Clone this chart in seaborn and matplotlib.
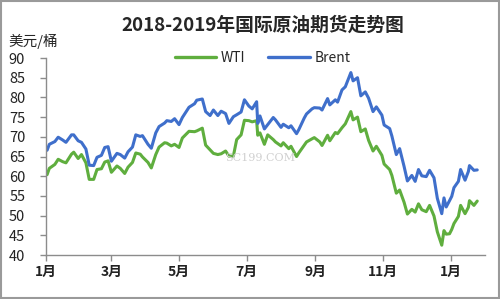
import matplotlib
matplotlib.use("Agg")
import matplotlib.pyplot as plt
import seaborn as sns
import pandas as pd
from matplotlib.patches import Rectangle

dates = [
    "2018-01-02", "2018-01-04", "2018-01-09", "2018-01-12", "2018-01-16", "2018-01-19", "2018-01-24", "2018-01-26", "2018-01-30",
    "2018-02-02", "2018-02-06", "2018-02-09", "2018-02-13", "2018-02-16", "2018-02-20", "2018-02-23", "2018-02-26",
    "2018-03-01", "2018-03-06", "2018-03-09", "2018-03-13", "2018-03-16", "2018-03-20", "2018-03-23", "2018-03-27", "2018-03-29",
    "2018-04-03", "2018-04-06", "2018-04-10", "2018-04-13", "2018-04-18", "2018-04-20", "2018-04-24", "2018-04-27",
    "2018-05-01", "2018-05-04", "2018-05-10", "2018-05-15", "2018-05-17", "2018-05-22", "2018-05-25", "2018-05-29",
    "2018-06-01", "2018-06-05", "2018-06-08", "2018-06-12", "2018-06-15", "2018-06-19", "2018-06-22", "2018-06-26", "2018-06-29",
    "2018-07-03", "2018-07-06", "2018-07-10", "2018-07-11", "2018-07-13", "2018-07-17", "2018-07-20", "2018-07-25", "2018-07-27",
    "2018-08-01", "2018-08-03", "2018-08-08", "2018-08-10", "2018-08-15", "2018-08-17", "2018-08-22", "2018-08-24", "2018-08-29", "2018-08-31",
    "2018-09-05", "2018-09-07", "2018-09-12", "2018-09-14", "2018-09-19", "2018-09-21", "2018-09-25", "2018-09-28",
    "2018-10-03", "2018-10-05", "2018-10-09", "2018-10-12", "2018-10-16", "2018-10-19", "2018-10-23", "2018-10-26", "2018-10-31",
    "2018-11-02", "2018-11-07", "2018-11-09", "2018-11-13", "2018-11-16", "2018-11-20", "2018-11-23", "2018-11-27", "2018-11-30",
    "2018-12-03", "2018-12-06", "2018-12-10", "2018-12-13", "2018-12-17", "2018-12-20", "2018-12-24", "2018-12-26", "2018-12-28", "2018-12-31",
    "2019-01-02", "2019-01-04", "2019-01-08", "2019-01-10", "2019-01-14", "2019-01-17", "2019-01-18", "2019-01-22", "2019-01-25",
]

wti = [
    60.4, 62.0, 63.0, 64.3, 63.7, 63.4, 65.6, 66.1, 64.5,
    65.5, 63.4, 59.2, 59.2, 61.7, 61.9, 63.6, 63.9,
    61.0, 62.6, 62.0, 60.7, 62.3, 63.5, 65.9, 65.6, 64.9,
    63.5, 62.1, 65.5, 67.4, 68.5, 68.4, 67.7, 68.1,
    67.3, 69.7, 71.4, 71.3, 71.5, 72.2, 67.9, 66.7,
    65.8, 65.5, 65.7, 66.4, 65.1, 65.1, 69.3, 70.5, 74.2,
    74.1, 73.8, 74.1, 70.4, 71.0, 68.1, 70.5, 69.3, 68.7,
    67.7, 68.5, 67.0, 67.6, 65.0, 65.9, 67.9, 68.7, 69.5, 69.8,
    68.7, 67.8, 70.4, 69.0, 71.1, 70.8, 72.3, 73.3,
    76.4, 74.3, 75.0, 71.3, 72.0, 69.1, 66.4, 67.6, 65.3,
    63.1, 61.7, 60.2, 55.7, 56.5, 53.4, 50.4, 51.6, 50.9,
    53.0, 51.5, 51.0, 52.6, 49.9, 45.9, 42.5, 46.2, 45.3, 45.4,
    46.5, 48.0, 49.8, 52.6, 50.5, 52.1, 53.8, 52.6, 53.7,
]

brent = [
    66.6, 68.1, 68.8, 69.9, 69.2, 68.6, 70.5, 70.5, 69.0,
    68.6, 66.9, 62.8, 62.7, 64.8, 65.3, 67.3, 67.5,
    63.8, 65.8, 65.5, 64.6, 66.2, 67.4, 70.5, 70.1, 70.3,
    68.1, 67.1, 71.0, 72.6, 73.5, 74.1, 73.9, 74.6,
    73.1, 74.9, 77.5, 78.4, 79.3, 79.6, 76.4, 75.4,
    76.8, 75.4, 76.5, 75.9, 73.4, 75.1, 75.6, 76.3, 79.4,
    77.8, 77.1, 78.9, 73.4, 75.3, 72.0, 73.1, 74.9, 74.3,
    72.4, 73.2, 72.3, 72.8, 70.8, 71.8, 74.8, 75.8, 77.1, 77.4,
    77.3, 76.8, 79.7, 78.1, 79.4, 78.8, 81.9, 82.7,
    86.3, 84.2, 85.0, 80.4, 81.4, 79.8, 76.4, 77.6, 75.5,
    73.0, 72.1, 70.2, 65.5, 67.0, 62.5, 58.8, 60.2, 58.7,
    61.7, 60.1, 59.9, 61.5, 59.6, 54.4, 50.5, 54.5, 52.2, 53.8,
    54.9, 57.1, 58.7, 61.7, 59.0, 61.2, 62.7, 61.5, 61.6,
]

series_names = ["WTI", "Brent"]
series_colors = ["#5FAE3E", "#3F6FCB"]

tick_dates = ["2018-01-01", "2018-03-01", "2018-05-01", "2018-07-01",
              "2018-09-01", "2018-11-01", "2019-01-01"]
tick_labels = ["1月", "3月", "5月", "7月", "9月", "11月", "1月"]
y_ticks = [40, 45, 50, 55, 60, 65, 70, 75, 80, 85, 90]

title = "2018-2019年国际原油期货走势图"
unit = "美元/桶"

sns.set_theme(style="white")
plt.rcParams["font.family"] = ["Noto Sans CJK SC", "DejaVu Sans"]

df = pd.DataFrame({
    "date": pd.to_datetime(dates * 2),
    "price": wti + brent,
    "series": [series_names[0]] * len(dates) + [series_names[1]] * len(dates),
})

fig = plt.figure(figsize=(5.0, 2.99), dpi=100)
ax = fig.add_axes([0.092, 0.147, 0.878, 0.659])

sns.lineplot(data=df, x="date", y="price", hue="series",
             palette=dict(zip(series_names, series_colors)),
             linewidth=2.2, ax=ax)

ax.set_xlim(pd.Timestamp("2018-01-01"), pd.Timestamp("2019-02-01"))
ax.set_ylim(40, 90)
ax.set_yticks(y_ticks)
ax.set_yticklabels([str(v) for v in y_ticks])
ax.set_xticks(pd.to_datetime(tick_dates))
ax.set_xticklabels(tick_labels)
ax.set_xlabel("")
ax.set_ylabel("")

for s in ["top", "right"]:
    ax.spines[s].set_visible(False)
for s in ["left", "bottom"]:
    ax.spines[s].set_color("#8c8c8c")
    ax.spines[s].set_linewidth(1.0)

ax.tick_params(axis="y", which="both", direction="out", length=4, width=1,
               color="#8c8c8c", labelsize=10.5, pad=11, left=True)
ax.tick_params(axis="x", which="both", direction="out", length=4, width=1,
               color="#8c8c8c", labelsize=10, pad=3, bottom=True)
for lab in ax.get_xticklabels():
    lab.set_fontweight("bold")
    lab.set_color("#222222")
for lab in ax.get_yticklabels():
    lab.set_color("#222222")

leg = ax.legend(loc="center", bbox_to_anchor=(0.525, 0.806), bbox_transform=fig.transFigure,
                ncol=2, frameon=False, fontsize=10, handlelength=3.0,
                columnspacing=1.6, handletextpad=0.35)
for line in leg.get_lines():
    line.set_linewidth(2.4)

fig.text(0.525, 0.915, title, ha="center", va="center", fontsize=13.5, fontweight="bold")
fig.text(0.016, 0.86, unit, ha="left", va="center", fontsize=10.5)

# faint watermark
fig.text(0.45, 0.47, "SC199.COM", ha="left", va="center", fontsize=8,
         color="#d0d0d0", family="DejaVu Serif")

fig.patches.append(Rectangle((0.002, 0.003), 0.996, 0.994, transform=fig.transFigure,
                             fill=False, edgecolor="#9a9a9a", linewidth=1.5))

fig.savefig("out.png", dpi=100)
